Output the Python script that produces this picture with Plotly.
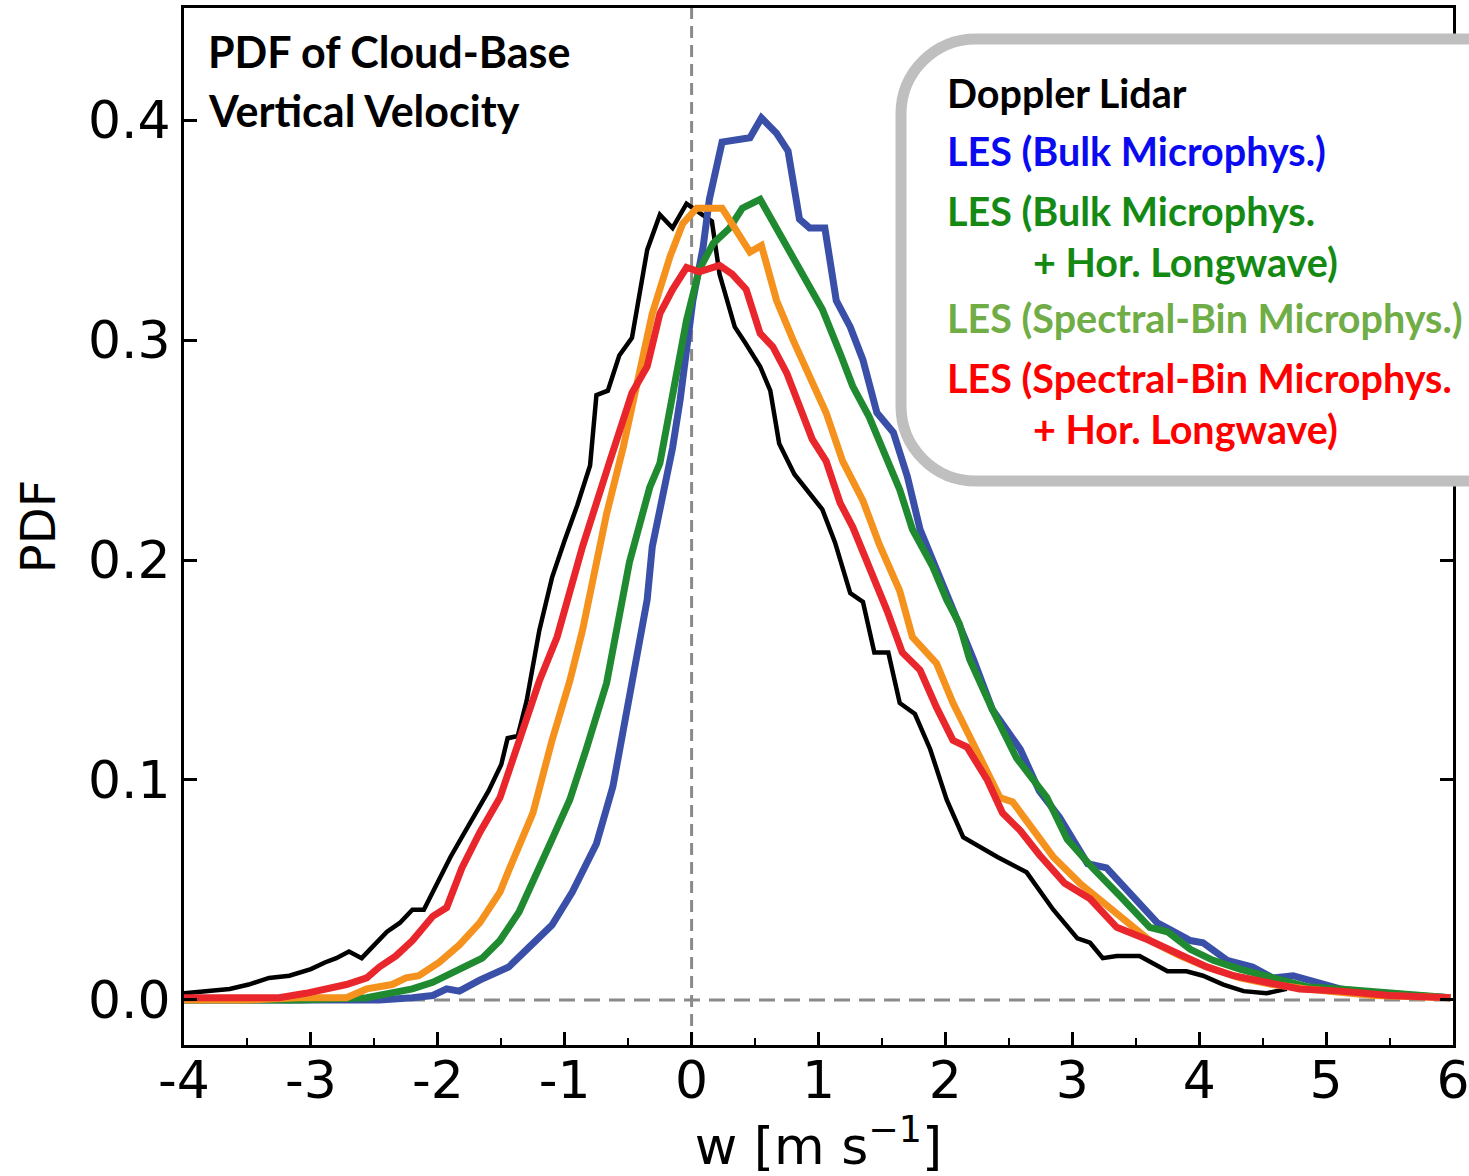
import plotly.graph_objects as go

# ---------------- data ----------------
lidar_w = [-4.00, -3.80, -3.64, -3.49, -3.33, -3.17, -3.00, -2.89, -2.80, -2.70, -2.60, -2.50, -2.40, -2.30,
           -2.20, -2.11, -2.00, -1.90, -1.80, -1.70, -1.60, -1.50, -1.45, -1.37, -1.30, -1.20, -1.10, -1.00,
           -0.90, -0.80, -0.75, -0.66, -0.57, -0.47, -0.40, -0.35, -0.25, -0.15, -0.04, 0.06, 0.16, 0.22,
           0.34, 0.42, 0.54, 0.62, 0.69, 0.81, 0.93, 1.03, 1.13, 1.25, 1.35, 1.44, 1.55, 1.64, 1.76, 1.88,
           2.01, 2.14, 2.41, 2.64, 2.85, 3.04, 3.14, 3.24, 3.35, 3.53, 3.75, 3.90, 4.03, 4.19, 4.35, 4.53, 4.69]
lidar_pdf = [0.003, 0.004, 0.005, 0.007, 0.010, 0.011, 0.014, 0.017, 0.019, 0.022, 0.019, 0.025, 0.031, 0.035,
             0.041, 0.041, 0.054, 0.065, 0.075, 0.085, 0.095, 0.107, 0.119, 0.120, 0.136, 0.168, 0.192, 0.209,
             0.225, 0.243, 0.275, 0.277, 0.293, 0.301, 0.323, 0.341, 0.357, 0.351, 0.362, 0.358, 0.354, 0.330,
             0.306, 0.299, 0.288, 0.277, 0.253, 0.239, 0.230, 0.223, 0.208, 0.185, 0.181, 0.158, 0.158, 0.135,
             0.130, 0.114, 0.091, 0.074, 0.065, 0.058, 0.041, 0.028, 0.026, 0.019, 0.020, 0.020, 0.013, 0.013,
             0.011, 0.007, 0.004, 0.003, 0.005]

bulk_w = [-4.00, -3.09, -2.46, -2.20, -2.04, -1.93, -1.83, -1.67, -1.51, -1.44, -1.28, -1.10, -0.94, -0.75,
          -0.62, -0.49, -0.35, -0.31, -0.15, -0.09, -0.04, 0.01, 0.09, 0.14, 0.24, 0.46, 0.55, 0.67, 0.76,
          0.85, 0.93, 1.05, 1.14, 1.25, 1.35, 1.46, 1.59, 1.70, 1.80, 1.90, 2.06, 2.22, 2.37, 2.59, 2.74,
          2.90, 3.12, 3.27, 3.43, 3.67, 3.77, 3.93, 4.03, 4.22, 4.42, 4.58, 4.74, 4.93, 5.11, 5.37, 5.64, 5.98]
bulk_pdf = [0.000, 0.000, 0.000, 0.001, 0.002, 0.005, 0.004, 0.009, 0.013, 0.015, 0.024, 0.034, 0.049, 0.071,
            0.097, 0.139, 0.182, 0.206, 0.251, 0.273, 0.297, 0.318, 0.342, 0.364, 0.390, 0.392, 0.401, 0.394,
            0.386, 0.355, 0.351, 0.351, 0.318, 0.306, 0.291, 0.267, 0.258, 0.238, 0.214, 0.200, 0.179, 0.155,
            0.132, 0.114, 0.095, 0.083, 0.062, 0.060, 0.050, 0.035, 0.032, 0.027, 0.026, 0.018, 0.015, 0.010,
            0.011, 0.008, 0.005, 0.003, 0.002, 0.001]

bulk_lw_w = [-4.00, -3.09, -2.56, -2.36, -2.20, -2.04, -1.85, -1.73, -1.65, -1.51, -1.44, -1.36, -1.10, -0.96,
             -0.83, -0.67, -0.49, -0.33, -0.25, -0.15, -0.04, 0.06, 0.17, 0.30, 0.40, 0.54, 0.67, 0.80, 0.93,
             1.03, 1.17, 1.27, 1.40, 1.54, 1.64, 1.74, 1.90, 2.01, 2.11, 2.19, 2.37, 2.56, 2.80, 2.96, 3.16,
             3.38, 3.61, 3.75, 3.93, 4.11, 4.32, 4.58, 4.85, 5.11, 5.50, 5.98]
bulk_lw_pdf = [0.000, 0.000, 0.001, 0.003, 0.005, 0.008, 0.013, 0.017, 0.019, 0.027, 0.033, 0.040, 0.073, 0.091,
               0.114, 0.144, 0.199, 0.233, 0.244, 0.274, 0.309, 0.332, 0.344, 0.351, 0.360, 0.364, 0.351, 0.338,
               0.324, 0.314, 0.294, 0.279, 0.265, 0.245, 0.232, 0.214, 0.197, 0.182, 0.171, 0.155, 0.132, 0.110,
               0.092, 0.073, 0.060, 0.047, 0.033, 0.031, 0.023, 0.018, 0.014, 0.010, 0.006, 0.005, 0.003, 0.001]

bin_w = [-4.00, -3.49, -3.09, -2.72, -2.56, -2.36, -2.25, -2.15, -1.99, -1.83, -1.67, -1.51, -1.44, -1.25,
         -1.10, -0.96, -0.86, -0.67, -0.54, -0.43, -0.31, -0.17, -0.07, 0.04, 0.24, 0.35, 0.46, 0.55, 0.67,
         0.80, 0.91, 1.06, 1.19, 1.35, 1.48, 1.64, 1.74, 1.93, 2.06, 2.22, 2.43, 2.53, 2.69, 2.85, 3.06,
         3.32, 3.61, 3.85, 4.06, 4.32, 4.58, 4.85, 5.37, 5.98]
bin_pdf = [0.000, 0.000, 0.001, 0.001, 0.005, 0.007, 0.010, 0.011, 0.017, 0.025, 0.035, 0.049, 0.059, 0.085,
           0.118, 0.145, 0.168, 0.221, 0.251, 0.282, 0.312, 0.338, 0.353, 0.360, 0.360, 0.350, 0.340, 0.343,
           0.318, 0.300, 0.286, 0.267, 0.245, 0.227, 0.207, 0.186, 0.165, 0.153, 0.135, 0.117, 0.092, 0.090,
           0.077, 0.065, 0.053, 0.041, 0.027, 0.020, 0.015, 0.010, 0.007, 0.005, 0.002, 0.001]

bin_lw_w = [-4.00, -3.51, -3.25, -3.04, -2.88, -2.72, -2.56, -2.46, -2.33, -2.20, -2.04, -1.93, -1.81, -1.67,
            -1.51, -1.36, -1.20, -1.06, -0.86, -0.65, -0.47, -0.35, -0.25, -0.15, -0.04, 0.06, 0.22, 0.32,
            0.43, 0.54, 0.64, 0.75, 0.85, 0.95, 1.06, 1.17, 1.27, 1.38, 1.54, 1.66, 1.80, 1.93, 2.06, 2.17,
            2.33, 2.45, 2.59, 2.74, 2.94, 3.14, 3.35, 3.61, 3.85, 4.06, 4.27, 4.53, 4.79, 5.11, 5.50, 5.98]
bin_lw_pdf = [0.001, 0.001, 0.001, 0.003, 0.005, 0.007, 0.010, 0.015, 0.020, 0.027, 0.038, 0.042, 0.060, 0.076,
              0.092, 0.117, 0.145, 0.165, 0.206, 0.244, 0.276, 0.288, 0.312, 0.323, 0.333, 0.331, 0.334, 0.330,
              0.323, 0.303, 0.297, 0.285, 0.270, 0.255, 0.245, 0.226, 0.215, 0.200, 0.177, 0.158, 0.150, 0.133,
              0.118, 0.115, 0.100, 0.085, 0.077, 0.066, 0.053, 0.046, 0.033, 0.027, 0.021, 0.015, 0.011, 0.008,
              0.005, 0.004, 0.002, 0.001]

x_tick_vals = [-4, -3, -2, -1, 0, 1, 2, 3, 4, 5, 6]
x_tick_text = ["-4", "-3", "-2", "-1", "0", "1", "2", "3", "4", "5", "6"]
y_tick_vals = [0.0, 0.1, 0.2, 0.3, 0.4]
y_tick_text = ["0.0", "0.1", "0.2", "0.3", "0.4"]

legend_lines = [
    ("Doppler Lidar", "#000000", 0),
    ("LES (Bulk Microphys.)", "#0A0AF0", 0),
    ("LES (Bulk Microphys.", "#148A14", 0),
    ("+ Hor. Longwave)", "#148A14", 1),
    ("LES (Spectral-Bin Microphys.)", "#70AD47", 0),
    ("LES (Spectral-Bin Microphys.", "#FF0000", 0),
    ("+ Hor. Longwave)", "#FF0000", 1),
]

# ---------------- layout geometry ----------------
W, H = 1469, 1176
L, R, T, B = 184, 16, 8, 131
PW, PH = W - L - R, H - T - B


def px(x):
    return (x - L) / PW


def py(y):
    return (H - B - y) / PH


fig = go.Figure()

series = [
    (lidar_w, lidar_pdf, "#000000", 4.5),
    (bulk_w, bulk_pdf, "#3A50A8", 7),
    (bulk_lw_w, bulk_lw_pdf, "#1F8A30", 7),
    (bin_w, bin_pdf, "#F5921E", 7),
    (bin_lw_w, bin_lw_pdf, "#E8262B", 7),
]
for xs, ys, col, lw in series:
    fig.add_trace(go.Scatter(x=xs, y=ys, mode="lines",
                             line=dict(color=col, width=lw), showlegend=False))

shapes = [
    dict(type="line", xref="x", yref="paper", x0=0, x1=0, y0=0, y1=1, layer="below",
         line=dict(color="#8A8A8A", width=3, dash="12px,7px")),
    dict(type="line", xref="paper", yref="y", x0=0, x1=1, y0=0, y1=0, layer="below",
         line=dict(color="#8A8A8A", width=3, dash="16px,9px")),
]

# rounded legend box
bl, bt, bb, br, rad = 901, 39, 481, 1520, 75
k = 0.5523 * rad
path = (f"M {px(br)},{py(bt)} L {px(bl + rad)},{py(bt)} "
        f"C {px(bl + rad - k)},{py(bt)} {px(bl)},{py(bt + rad - k)} {px(bl)},{py(bt + rad)} "
        f"L {px(bl)},{py(bb - rad)} "
        f"C {px(bl)},{py(bb - rad + k)} {px(bl + rad - k)},{py(bb)} {px(bl + rad)},{py(bb)} "
        f"L {px(br)},{py(bb)} Z")
shapes.append(dict(type="path", xref="paper", yref="paper", path=path,
                   fillcolor="white", line=dict(color="#BFBFBF", width=11), layer="above"))

annotations = []
# title
for txt, yc in [("PDF of Cloud-Base", 52), ("Vertical Velocity", 110)]:
    annotations.append(dict(xref="paper", yref="paper", x=px(206), y=py(yc), text=f"<b>{txt}</b>",
                            showarrow=False, xanchor="left", yanchor="middle",
                            font=dict(family="Lato", size=43, color="black")))

legend_y = [93, 150, 210, 261, 317, 377, 428]
for (txt, col, indent), yc in zip(legend_lines, legend_y):
    xl = 1031 if indent else 945
    annotations.append(dict(xref="paper", yref="paper", x=px(xl), y=py(yc), text=f"<b>{txt}</b>",
                            showarrow=False, xanchor="left", yanchor="middle",
                            font=dict(family="Lato", size=39.5, color=col)))

fig.update_layout(
    width=W, height=H,
    margin=dict(l=L, r=R, t=T, b=B, pad=0, autoexpand=False),
    paper_bgcolor="white", plot_bgcolor="white",
    shapes=shapes, annotations=annotations,
    font=dict(family="DejaVu Sans", color="black"),
    xaxis=dict(range=[-4, 6], tickvals=x_tick_vals, ticktext=x_tick_text, automargin=False,
               ticklabeloverflow="allow", ticklabelstandoff=-12,
               ticks="inside", ticklen=13, tickwidth=2.5, tickcolor="black",
               minor=dict(dtick=0.5, ticks="inside", ticklen=7, tickwidth=2, tickcolor="black"),
               showline=True, linecolor="black", linewidth=3, mirror=True,
               showgrid=False, zeroline=False,
               tickfont=dict(family="DejaVu Sans", size=52),
               title=dict(text="w [m s<sup>−1</sup>]", font=dict(family="DejaVu Sans", size=52),
                          standoff=18)),
    yaxis=dict(range=[-0.0205, 0.451], tickvals=y_tick_vals, ticktext=y_tick_text, automargin=False,
               ticklabeloverflow="allow",
               ticks="inside", ticklen=13, tickwidth=2.5, tickcolor="black",
               showline=True, linecolor="black", linewidth=3, mirror="ticks",
               showgrid=False, zeroline=False,
               tickfont=dict(family="DejaVu Sans", size=52),
               title=dict(text="PDF", font=dict(family="DejaVu Sans", size=48), standoff=18)),
)

fig.write_html("out.html")
